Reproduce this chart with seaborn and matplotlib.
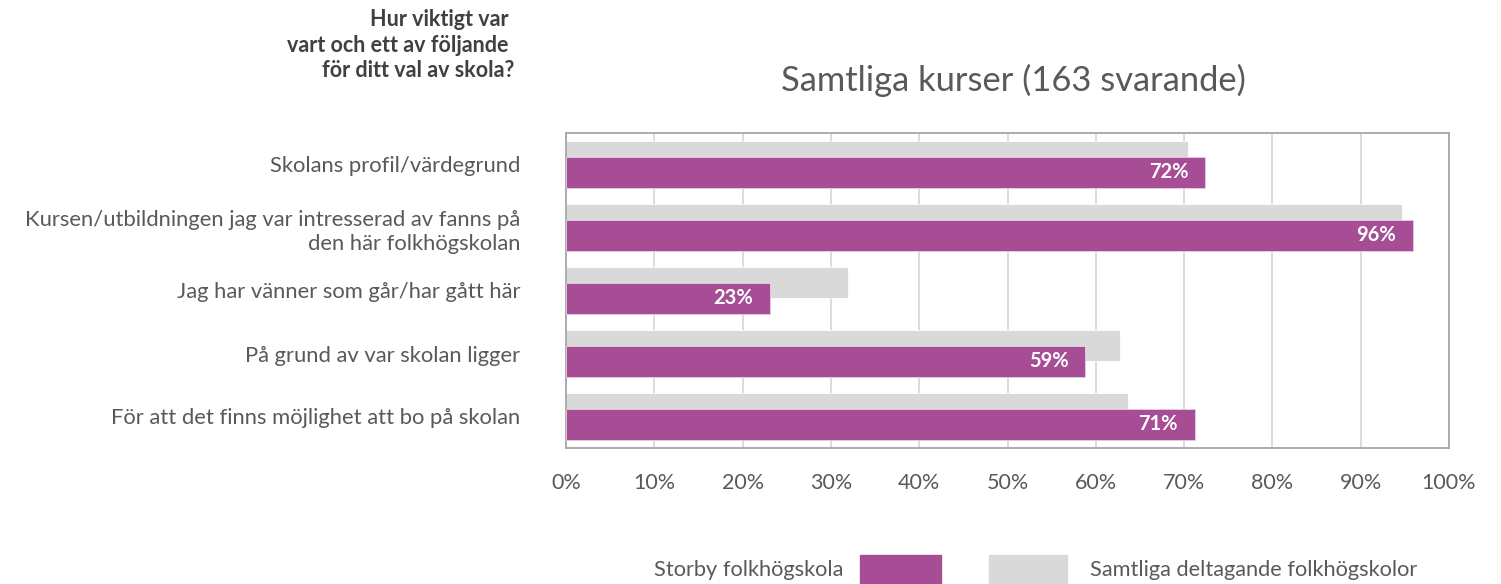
import numpy as np
import matplotlib.pyplot as plt
import pandas as pd
import seaborn as sns
from matplotlib.patches import Rectangle

# Hur viktigt var ... for ditt val av skola
categories = [
    "Skolans profil/värdegrund",
    "Kursen/utbildningen jag var intresserad av fanns på\nden här folkhögskolan",
    "Jag har vänner som går/har gått här",
    "På grund av var skolan ligger",
    "För att det finns möjlighet att bo på skolan",
]
storby = [72.4, 95.9, 23.1, 58.8, 71.2]
samtliga = [70.4, 94.7, 31.9, 62.7, 63.6]
ticks = [0, 10, 20, 30, 40, 50, 60, 70, 80, 90, 100]

purple = "#A64D96"
grey = "#D9D9D9"
txt = "#595959"

sns.set_theme(style="white")
plt.rcParams["font.family"] = ["Lato", "DejaVu Sans"]

pos = np.arange(len(categories))
df_s = pd.DataFrame({"pos": pos + 0.125, "value": storby})
df_a = pd.DataFrame({"pos": pos - 0.125, "value": samtliga})

fig = plt.figure(figsize=(15.01, 5.84), dpi=100)
ax = fig.add_axes([566 / 1501, 1 - 448 / 584, (1449 - 566) / 1501, (448 - 133) / 584])

sns.barplot(data=df_a, x="value", y="pos", orient="y", native_scale=True,
            color=grey, width=0.5, saturation=1, ax=ax, zorder=2,
            edgecolor="white", linewidth=0.6)
sns.barplot(data=df_s, x="value", y="pos", orient="y", native_scale=True,
            color=purple, width=0.5, saturation=1, ax=ax, zorder=3,
            edgecolor="#E6D0E2", linewidth=0.6)

ax.set_xlim(0, 100)
ax.set_ylim(len(categories) - 0.5, -0.5)
ax.set_xticks(ticks)
ax.set_xticklabels([f"{t}%" for t in ticks], color=txt, fontsize=15.5)
ax.set_yticks(pos)
ax.set_yticklabels(categories, color=txt, fontsize=15.8, ha="right", linespacing=1.3)
ax.tick_params(axis="x", length=0, pad=18)
ax.tick_params(axis="y", length=0, pad=33)
ax.set_xlabel("")
ax.set_ylabel("")
ax.xaxis.grid(True, color=grey, linewidth=1.3, zorder=0)
ax.set_axisbelow(True)
for s in ax.spines.values():
    s.set_visible(True)
    s.set_color("#A6A6A6")
    s.set_linewidth(1.3)

# value labels inside purple bars
cont = ax.containers[-1]
anns = ax.bar_label(cont, labels=[f"{round(v)}%" for v in storby], padding=-12,
                    color="white", fontsize=14.5, fontweight="bold")
for a in anns:
    a.set_ha("right")

fig.text(1013 / 1501, 1 - 80 / 584, "Samtliga kurser (163 svarande)", ha="center",
         va="center", fontsize=24.8, color=txt)
fig.text(514 / 1501, 1 - 45 / 584,
         "Hur viktigt var \nvart och ett av följande \nför ditt val av skola?",
         ha="right", va="center", fontsize=15.5, fontweight="bold", color="#404040",
         linespacing=1.25)

# legend
fig.patches.append(Rectangle((860 / 1501, 0), 81 / 1501, 29 / 584,
                             transform=fig.transFigure, color=purple))
fig.patches.append(Rectangle((989 / 1501, 0), 78 / 1501, 29 / 584,
                             transform=fig.transFigure, color=grey))
fig.text(843 / 1501, 1 - 570 / 584, "Storby folkhögskola", ha="right", va="center",
         fontsize=15.7, color=txt)
fig.text(1090 / 1501, 1 - 570 / 584, "Samtliga deltagande folkhögskolor", ha="left",
         va="center", fontsize=15.7, color=txt)

fig.savefig("out.png", dpi=100)
